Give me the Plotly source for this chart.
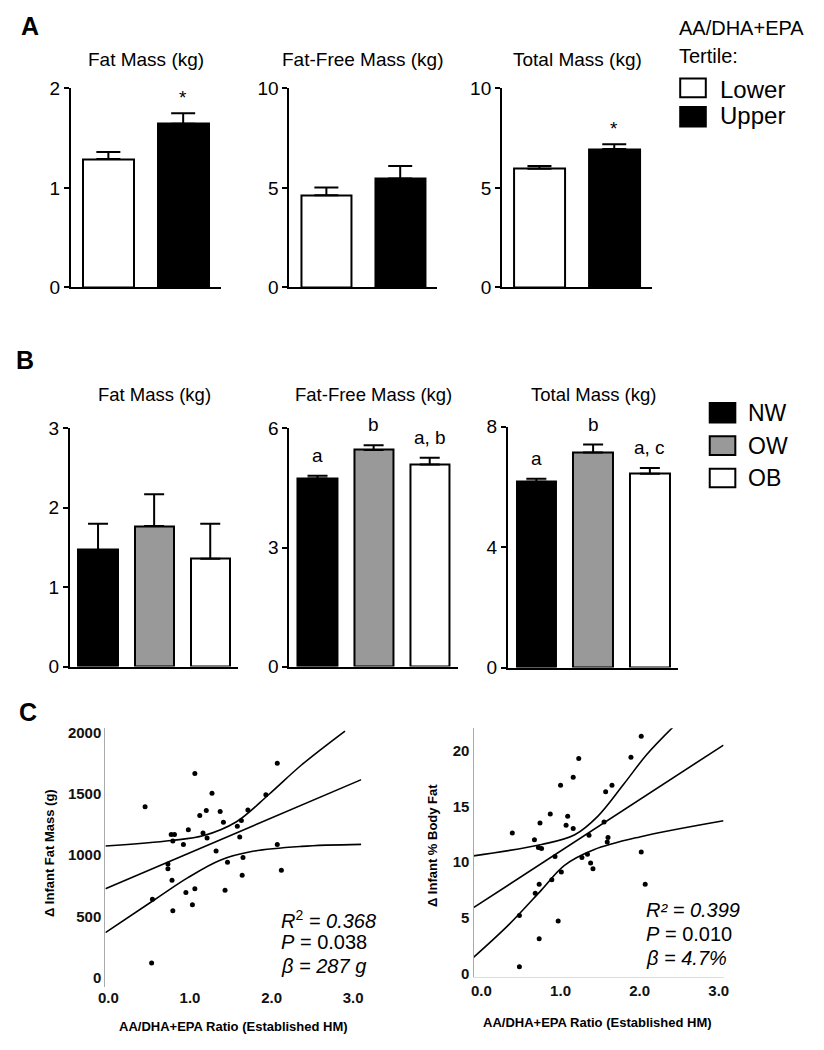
import plotly.graph_objects as go

W, H = 824, 1050
FONT = 'Arial, Liberation Sans, sans-serif'

# ---- Panel A: tertiles of AA/DHA+EPA ----
tertiles = ['Lower', 'Upper']
tertile_colors = ['white', 'black']
a_fat = [1.29, 1.645]
a_fat_sem = [0.07, 0.105]
a_ffm = [4.63, 5.47]
a_ffm_sem = [0.39, 0.63]
a_total = [5.96, 6.95]
a_total_sem = [0.14, 0.24]
a_fat_marks = ['', '*']
a_ffm_marks = ['', '']
a_total_marks = ['', '*']

# ---- Panel B: maternal BMI groups ----
bmi_groups = ['NW', 'OW', 'OB']
bmi_colors = ['black', '#999999', 'white']
b_fat = [1.47, 1.77, 1.36]
b_fat_sem = [0.33, 0.40, 0.44]
b_ffm = [4.74, 5.46, 5.09]
b_ffm_sem = [0.07, 0.12, 0.17]
b_total = [6.17, 7.14, 6.43]
b_total_sem = [0.10, 0.26, 0.19]
b_fat_marks = ['', '', '']
b_ffm_marks = ['a', 'b', 'a, b']
b_total_marks = ['a', 'b', 'a, c']

# ---- Panel C: regressions on AA/DHA+EPA ratio ----
fm_ratio = [0.45, 1.06, 1.27, 2.07, 1.93, 1.12, 1.20, 1.37, 1.41, 1.71, 1.63, 1.58,
            1.61, 0.77, 0.81, 0.98, 1.16, 1.21, 0.79, 0.92, 1.32, 1.65, 1.46, 0.73,
            0.73, 0.78, 1.64, 2.07, 2.12, 1.43, 1.06, 0.95, 1.03, 0.54, 0.79, 0.53]
fm_delta = [1395, 1664, 1504, 1749, 1491, 1323, 1363, 1355, 1269, 1368, 1283, 1235,
            1149, 1168, 1168, 1208, 1181, 1141, 1115, 1088, 1035, 981, 944, 928,
            891, 797, 837, 1088, 877, 715, 728, 696, 597, 643, 549, 123]
fm_fit_x = [-0.036, 3.1]
fm_fit_y = [727, 1615]
fm_upper_x = [-0.036, 0.77, 1.17, 1.57, 1.97, 2.37, 2.9]
fm_upper_y = [1075, 1120, 1160, 1272, 1496, 1736, 2010]
fm_lower_x = [-0.036, 0.57, 0.97, 1.37, 1.77, 2.37, 3.1]
fm_lower_y = [370, 640, 816, 960, 1032, 1072, 1088]

bf_ratio = [0.39, 0.67, 0.72, 0.76, 0.74, 0.87, 1.00, 1.16, 1.23, 1.09, 1.07, 1.16,
            0.93, 1.01, 0.89, 0.73, 0.68, 1.36, 1.27, 1.34, 1.38, 1.41, 1.55, 1.59,
            1.60, 1.57, 1.65, 1.89, 2.02, 2.02, 2.07, 0.48, 0.97, 0.73, 0.48]
bf_delta = [12.6, 12.0, 11.3, 11.2, 13.5, 14.3, 16.9, 17.6, 19.3, 14.1, 13.3, 13.0,
            10.5, 9.1, 8.4, 8.0, 7.2, 12.4, 10.4, 10.7, 9.9, 9.4, 13.6, 11.8,
            12.2, 16.3, 16.9, 19.4, 21.3, 10.9, 8.0, 5.2, 4.7, 3.1, 0.6]
bf_fit_x = [-0.1, 3.06]
bf_fit_y = [5.9, 20.5]
bf_upper_x = [-0.1, 0.76, 1.18, 1.47, 1.80, 2.09, 2.42]
bf_upper_y = [10.55, 11.57, 12.45, 14.1, 17.0, 19.65, 22.1]
bf_lower_x = [-0.1, 0.35, 0.76, 1.05, 1.42, 2.0, 3.06]
bf_lower_y = [1.44, 4.4, 7.5, 9.7, 11.1, 12.25, 13.7]

fm_stats = ['<i>R</i><sup>2</sup><i> = 0.368</i>', '<i>P</i> = 0.038', '<i>β = 287 g</i>']
bf_stats = ['<i>R² = 0.399</i>', '<i>P</i> = 0.010', '<i>β = 4.7%</i>']


def xd(l, r):
    return [l / W, r / W]


def yd(t, b):
    return [1 - b / H, 1 - t / H]


fig = go.Figure()
annotations = []
shapes = []
layout = {}


def ann(text, x, y, size, bold=False, xanchor='center', yanchor='middle', angle=0):
    annotations.append(dict(
        text=text, x=x / W, y=1 - y / H, xref='paper', yref='paper',
        xanchor=xanchor, yanchor=yanchor, showarrow=False, textangle=angle,
        font=dict(family=FONT, size=size, color='black',
                  weight='bold' if bold else 'normal'),
    ))


bar_panels = [
    # axis, groups, colors, values, sem, marks, x px, y px, ymax, ticks, bar width, cap
    (1, tertiles, tertile_colors, a_fat, a_fat_sem, a_fat_marks, (65, 217), (80, 283), 2, [0, 1, 2], 0.68, 12),
    (2, tertiles, tertile_colors, a_ffm, a_ffm_sem, a_ffm_marks, (287, 437), (80, 283), 10, [0, 5, 10], 0.68, 12),
    (3, tertiles, tertile_colors, a_total, a_total_sem, a_total_marks, (503, 655), (80, 283), 10, [0, 5, 10], 0.68, 12),
    (4, bmi_groups, bmi_colors, b_fat, b_fat_sem, b_fat_marks, (64, 235), (427, 670), 3, [0, 1, 2, 3], 0.70, 10),
    (5, bmi_groups, bmi_colors, b_ffm, b_ffm_sem, b_ffm_marks, (287, 458), (427, 670), 6, [0, 3, 6], 0.70, 10),
    (6, bmi_groups, bmi_colors, b_total, b_total_sem, b_total_marks, (509, 682), (425, 671), 8, [0, 4, 8], 0.70, 10),
]

for i, groups, colors, vals, sem, marks, xpx, ypx, ymax, ticks, bw, cap in bar_panels:
    sfx = '' if i == 1 else str(i)
    fig.add_trace(go.Bar(
        x=groups, y=vals, width=bw, xaxis='x' + sfx, yaxis='y' + sfx,
        marker=dict(color=colors, line=dict(color='black', width=2)),
        error_y=dict(type='data', array=sem, arrayminus=[0] * len(sem), symmetric=False,
                     color='black', thickness=2, width=cap),
        showlegend=False, hoverinfo='skip',
    ))
    layout['xaxis' + sfx] = dict(
        domain=xd(*xpx), anchor='y' + sfx, type='category', range=[-0.5, len(groups) - 0.5],
        showline=True, linecolor='black', linewidth=2, showticklabels=False, ticks='',
        showgrid=False, zeroline=False, fixedrange=True)
    layout['yaxis' + sfx] = dict(
        domain=yd(*ypx), anchor='x' + sfx, range=[0, ymax], tickvals=ticks,
        showline=True, linecolor='black', linewidth=2, ticks='outside', ticklen=5,
        tickwidth=2, tickcolor='black', showgrid=False, zeroline=False,
        tickfont=dict(family=FONT, size=19, color='black'))
    for g, v, s, m in zip(groups, vals, sem, marks):
        if m:
            annotations.append(dict(
                text=m, x=g, y=v + s, xref='x' + sfx, yref='y' + sfx, showarrow=False,
                xanchor='center', yanchor='bottom', yshift=3 if m == '*' else 8,
                font=dict(family=FONT, size=19, color='black')))

# subplot titles
ann('Fat Mass (kg)', 141, 50, 19)
ann('Fat-Free Mass (kg)', 362, 50, 19)
ann('Total Mass (kg)', 580, 51, 19)
ann('Fat Mass (kg)', 150, 392, 18.5)
ann('Fat-Free Mass (kg)', 372, 392, 18.5)
ann('Total Mass (kg)', 596, 392, 18.5)

# panel letters
ann('A', 23, 16, 25, bold=True)
ann('B', 18, 357, 25, bold=True)
ann('C', 21, 716, 25, bold=True)

# legend A
ann('AA/DHA+EPA', 681, 18, 20, xanchor='left')
ann('Tertile:', 681, 47, 20, xanchor='left')
for label, color, top, bot, ty in [('Lower', tertile_colors[0], 70, 89, 81),
                                   ('Upper', tertile_colors[1], 99, 119, 108)]:
    shapes.append(dict(type='rect', xref='paper', yref='paper', x0=684 / W, x1=710 / W,
                       y0=1 - bot / H, y1=1 - top / H, fillcolor=color,
                       line=dict(color='black', width=2)))
    ann(label, 722, ty, 24, xanchor='left')

# legend B
for label, color, top, bot in [('NW', bmi_colors[0], 401, 421),
                               ('OW', bmi_colors[1], 435, 454),
                               ('OB', bmi_colors[2], 468, 487)]:
    shapes.append(dict(type='rect', xref='paper', yref='paper', x0=714 / W, x1=740 / W,
                       y0=1 - bot / H, y1=1 - top / H, fillcolor=color,
                       line=dict(color='black', width=2)))
    ann(label, 751, (top + bot) / 2, 23, xanchor='left')

# ---- Panel C scatter plots ----
scatter_panels = [
    (7, fm_ratio, fm_delta, fm_fit_x, fm_fit_y, fm_upper_x, fm_upper_y, fm_lower_x, fm_lower_y,
     (100, 360), (733, 997), [-0.036, 3.1], [-72, 2032], [0, 500, 1000, 1500, 2000], False),
    (8, bf_ratio, bf_delta, bf_fit_x, bf_fit_y, bf_upper_x, bf_upper_y, bf_lower_x, bf_lower_y,
     (474, 728), (733, 987), [-0.1, 3.06], [-0.35, 22.0], [0, 5, 10, 15, 20], True),
]

for i, xs, ys, fx, fy, ux, uy, lx, ly, xpx, ypx, xr, yr, yt, xline in scatter_panels:
    sfx = str(i)
    fig.add_trace(go.Scatter(x=xs, y=ys, mode='markers', xaxis='x' + sfx, yaxis='y' + sfx,
                             marker=dict(color='black', size=5), showlegend=False, hoverinfo='skip'))
    for cx, cy, shape in [(fx, fy, 'linear'), (ux, uy, 'spline'), (lx, ly, 'spline')]:
        fig.add_trace(go.Scatter(x=cx, y=cy, mode='lines', xaxis='x' + sfx, yaxis='y' + sfx,
                                 line=dict(color='black', width=1.6, shape=shape, smoothing=1.0),
                                 showlegend=False, hoverinfo='skip'))
    layout['xaxis' + sfx] = dict(
        domain=xd(*xpx), anchor='y' + sfx, range=xr, tickvals=[0, 1, 2, 3],
        ticktext=['0.0', '1.0', '2.0', '3.0'], showline=xline, linecolor='#dddddd', linewidth=1,
        ticks='', showgrid=False, zeroline=False,
        tickfont=dict(family=FONT, size=15, color='#111111', weight='bold'))
    layout['yaxis' + sfx] = dict(
        domain=yd(*ypx), anchor='x' + sfx, range=yr, tickvals=yt, showline=True,
        linecolor='#aaaaaa', linewidth=1.2, ticks='', showgrid=False, zeroline=False,
        tickfont=dict(family=FONT, size=15, color='#111111', weight='bold'))

ann('AA/DHA+EPA Ratio (Established HM)', 230, 1037, 13, bold=True)
ann('AA/DHA+EPA Ratio (Established HM)', 600, 1033, 13, bold=True)
ann('Δ Infant Fat Mass (g)', 43, 860, 13, bold=True, angle=-90)
ann('Δ Infant % Body Fat', 433, 853, 13, bold=True, angle=-90)

for txt, y in zip(fm_stats, [928, 951, 975]):
    ann(txt, 276, y, 20, xanchor='left')
for txt, y in zip(bf_stats, [918, 943, 967]):
    ann(txt, 647, y, 20, xanchor='left')

fig.update_layout(
    width=W, height=H, margin=dict(l=0, r=0, t=0, b=0),
    paper_bgcolor='white', plot_bgcolor='white', showlegend=False,
    bargap=0, annotations=annotations, shapes=shapes,
    font=dict(family=FONT, color='black'),
    **layout,
)

# drop the default page margin so the 824x1050 figure fills the window
fig.write_html('out.html', config={'displayModeBar': False},
               post_script="document.body.style.margin = '0px';")
